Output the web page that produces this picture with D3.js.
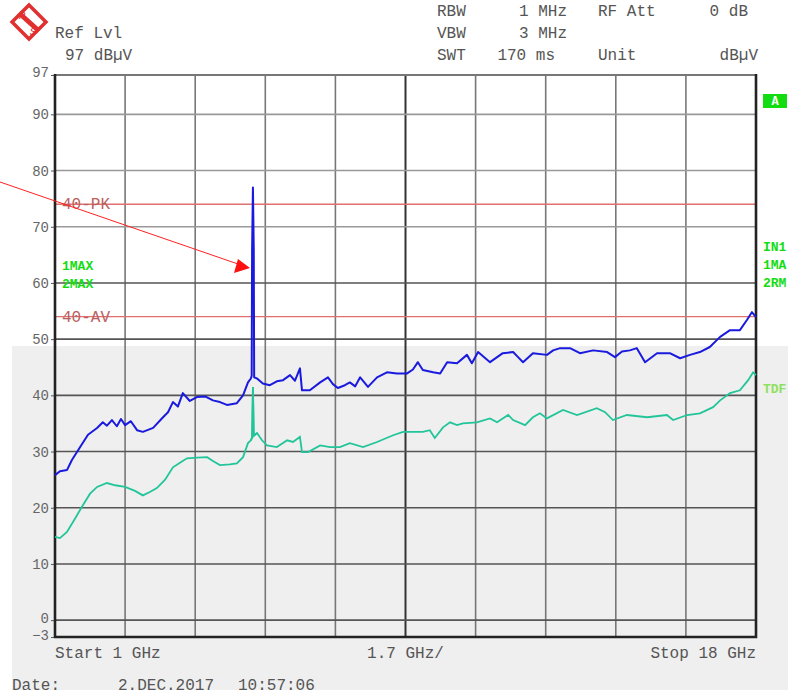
<!DOCTYPE html>
<html>
<script src="https://d3js.org/d3.v7.min.js"></script>
<style>
  body { margin:0; background:#fff; }
  text { font-family:"Liberation Mono", monospace; }
</style>
<body onload='init()'>
<svg width=788 height=695></svg>
<script>
    // frequency in GHz, level in dBuV
    const maxFreq = [1.00,1.12,1.29,1.41,1.61,1.80,2.02,2.16,2.26,2.38,2.50,2.60,2.70,2.84,2.99,3.13,3.38,3.62,3.74,3.86,3.98,4.10,4.27,4.44,4.64,4.83,5.00,5.17,5.41,5.56,5.68,5.75,5.77,5.78,5.80,5.82,5.83,
        5.90,6.04,6.21,6.38,6.53,6.70,6.82,6.94,6.99,7.18,7.43,7.62,7.74,7.86,8.03,8.15,8.28,8.40,8.59,8.81,9.05,9.29,9.54,9.68,9.80,9.92,10.17,10.34,10.51,10.75,10.99,11.11,11.26,11.55,11.86,
        12.11,12.23,12.35,12.59,12.93,13.08,13.25,13.49,13.73,14.05,14.39,14.58,14.75,14.94,15.11,15.31,15.60,15.91,16.16,16.40,16.64,16.88,17.13,17.37,17.61,17.78,17.90,18.00];
    const maxLevel = [25.8,26.5,26.7,28.5,30.8,33.0,34.2,35.2,34.6,35.6,34.5,35.8,34.7,35.4,33.8,33.5,34.2,36.1,37.0,38.8,38.0,40.4,39.0,39.7,39.8,39.1,38.8,38.3,38.6,40.0,42.3,43.0,43.5,66.0,77.0,66.0,43.2,
        43.0,42.1,41.8,42.5,42.7,43.6,42.6,44.8,40.9,40.9,42.3,43.2,42.0,41.3,41.8,42.3,41.6,43.2,41.5,43.2,44.1,43.9,43.9,44.6,45.9,44.5,44.1,43.9,45.9,45.7,47.2,45.7,47.7,45.9,47.5,
        47.7,46.8,45.9,47.5,47.2,48.0,48.4,48.4,47.5,48.0,47.7,46.8,47.8,48.0,48.4,45.9,47.5,47.5,46.6,47.2,47.7,48.6,50.4,51.6,51.6,53.4,54.8,53.9];

    const rmsFreq = [1.00,1.12,1.29,1.48,1.68,1.85,2.02,2.26,2.46,2.70,2.94,3.13,3.30,3.47,3.67,3.86,4.03,4.20,4.44,4.69,4.83,5.00,5.24,5.41,5.56,5.68,5.75,5.78,5.80,5.82,
        5.90,6.02,6.14,6.38,6.63,6.77,6.94,6.99,7.14,7.43,7.67,7.91,8.15,8.47,8.81,9.20,9.44,9.92,10.09,10.21,10.41,10.58,10.75,10.89,11.23,11.55,11.72,11.99,12.11,12.40,12.59,12.76,12.93,
        13.32,13.66,14.14,14.34,14.53,14.87,15.36,15.84,15.99,16.33,16.64,16.96,17.13,17.37,17.61,17.81,17.93,18.00];
    const rmsLevel = [14.8,14.6,15.7,18.0,20.5,22.5,23.7,24.4,24.0,23.7,23.0,22.2,22.8,23.5,25.0,27.2,28.0,28.8,28.9,29.0,28.3,27.6,27.7,27.9,29.0,31.5,32.0,32.5,41.5,32.8,
        33.3,32.0,31.1,30.8,32.0,31.7,32.6,29.9,29.9,31.1,30.8,30.8,31.5,30.8,31.7,32.9,33.5,33.5,33.8,32.4,34.3,35.2,34.7,35.0,35.2,35.9,35.2,36.5,35.6,34.7,36.1,36.8,35.9,
        37.4,36.5,37.7,37.0,35.6,36.5,36.1,36.5,35.6,36.5,36.8,37.9,39.1,40.4,40.9,42.7,44.1,43.6];

    const limitNames = ["40-PK", "40-AV"];
    const limitLevels = [74, 54];
    const yTicks = [97, 90, 80, 70, 60, 50, 40, 30, 20, 10, 0, -3];
    const xStart = 1, xStop = 18, xDiv = 1.7;

    function init(){
        const svg = d3.select("svg");
        const x = d3.scaleLinear().domain([xStart, xStop]).range([55, 756]);
        const y = d3.scaleLinear().domain([-3, 97]).range([637, 75]);

        // grey scanned background lower half
        svg.append("rect").attr("x", 12).attr("y", 346).attr("width", 776).attr("height", 344)
            .attr("fill", "#efefef");
        svg.append("rect").attr("x", 55).attr("y", 75).attr("width", 701).attr("height", 271)
            .attr("fill", "#fff");

        const grid = svg.append("g");
        grid.selectAll(".vg").data(d3.range(1, 10)).enter().append("line")
            .attr("x1", d => x(xStart + d * xDiv)).attr("x2", d => x(xStart + d * xDiv))
            .attr("y1", y(97)).attr("y2", y(-3))
            .attr("stroke", d => d == 5 ? "#333" : "#777")
            .attr("stroke-width", d => d == 5 ? 2 : 1.6);
        grid.selectAll(".hg").data(d3.range(0, 91, 10)).enter().append("line")
            .attr("x1", x(xStart)).attr("x2", x(xStop))
            .attr("y1", d => y(d)).attr("y2", d => y(d))
            .attr("stroke", d => d >= 70 ? "#999" : "#555")
            .attr("stroke-width", 1.6);

        // limit lines
        svg.selectAll(".lim").data(limitLevels).enter().append("line")
            .attr("x1", x(xStart)).attr("x2", x(xStop))
            .attr("y1", d => y(d)).attr("y2", d => y(d))
            .attr("stroke", "#e07070").attr("stroke-width", 1.3);
        svg.selectAll(".limt").data(limitLevels).enter().append("text")
            .attr("x", 62).attr("y", d => y(d) + 5)
            .attr("font-size", 16).attr("fill", "#b86060")
            .text((d, i) => limitNames[i]);

        // frame
        svg.append("line").attr("x1", 55).attr("x2", 756).attr("y1", 75).attr("y2", 75)
            .attr("stroke", "#777").attr("stroke-width", 2);
        svg.append("path").attr("d", "M55,74V637H756V74").attr("fill", "none")
            .attr("stroke", "#222").attr("stroke-width", 2.6);

        // y axis
        const yAxis = d3.axisLeft(y).tickValues(yTicks).tickSize(3).tickPadding(2);
        const ya = svg.append("g").attr("transform", "translate(54,0)").call(yAxis);
        ya.select(".domain").remove();
        ya.selectAll("line").attr("stroke", "#555");
        ya.selectAll("text").attr("font-family", "Liberation Sans").attr("font-size", 14)
            .attr("fill", "#666")
            .attr("dy", d => d == 97 ? "0.1em" : d == -3 ? "0.15em" : d == 0 ? "0.2em" : "0.32em");

        // traces
        const line = d3.line().x(d => x(d[0])).y(d => y(d[1]));
        svg.append("path").datum(rmsFreq.map((f, i) => [f, rmsLevel[i]]))
            .attr("d", line).attr("fill", "none").attr("stroke", "#22c59a").attr("stroke-width", 1.8);
        svg.append("path").datum(maxFreq.map((f, i) => [f, maxLevel[i]]))
            .attr("d", line).attr("fill", "none").attr("stroke", "#1a1ade").attr("stroke-width", 2)
            .attr("stroke-linejoin", "round");
        svg.append("path").datum(rmsFreq.slice(26, 31).map((f, i) => [f, rmsLevel[i + 26]]))
            .attr("d", line).attr("fill", "none").attr("stroke", "#22c59a").attr("stroke-width", 1.8);

        // trace labels
        const green = "#11dd11";
        svg.append("text").attr("x", 62).attr("y", 270).attr("font-size", 13).attr("font-weight", "bold")
            .attr("fill", green).text("1MAX");
        svg.append("text").attr("x", 62).attr("y", 288).attr("font-size", 13).attr("font-weight", "bold")
            .attr("fill", green).text("2MAX");
        svg.append("rect").attr("x", 763).attr("y", 94).attr("width", 24).attr("height", 14).attr("fill", "#11dd11");
        svg.append("text").attr("x", 775).attr("y", 105).attr("text-anchor", "middle").attr("font-size", 12)
            .attr("font-weight", "bold").attr("fill", "#fff").text("A");
        [["IN1", 251], ["1MA", 269], ["2RM", 287]].forEach(t =>
            svg.append("text").attr("x", 763).attr("y", t[1]).attr("font-size", 13).attr("font-weight", "bold")
                .attr("fill", green).text(t[0]));
        svg.append("text").attr("x", 763).attr("y", 393).attr("font-size", 13).attr("font-weight", "bold")
            .attr("fill", "#8ee060").text("TDF");

        // header
        const grey = "#555";
        const hdr = (tx, px, py, anchor) => svg.append("text").attr("x", px).attr("y", py)
            .attr("font-size", 16).attr("fill", grey).attr("text-anchor", anchor || "start").text(tx);
        hdr("Ref Lvl", 55, 38);
        hdr("97 dBµV", 65, 60);
        hdr("RBW", 437, 16); hdr("1 MHz", 567, 16, "end"); hdr("RF Att", 598, 16); hdr("0 dB", 748, 16, "end");
        hdr("VBW", 437, 38); hdr("3 MHz", 567, 38, "end");
        hdr("SWT", 437, 60); hdr("170 ms", 555, 60, "end"); hdr("Unit", 598, 60); hdr("dBµV", 758, 60, "end");
        hdr("Start " + xStart + " GHz", 55, 658);
        hdr(xDiv + " GHz/", x((xStart + xStop) / 2), 658, "middle");
        hdr("Stop " + xStop + " GHz", 756, 658, "end");
        hdr("Date:", 12, 690);
        hdr("2.DEC.2017", 118, 690);
        hdr("10:57:06", 238, 690);

        // R&S logo
        const logo = svg.append("g").attr("transform", "translate(29,22)");
        logo.append("rect").attr("x", -12).attr("y", -12).attr("width", 24).attr("height", 24)
            .attr("transform", "rotate(45)").attr("fill", "#fff").attr("stroke", "#e03030").attr("stroke-width", 3.5);
        logo.append("line").attr("x1", -10).attr("y1", -9).attr("x2", 10).attr("y2", 9)
            .attr("stroke", "#e03030").attr("stroke-width", 5);
        logo.append("text").attr("x", -7).attr("y", -3).attr("font-family", "Liberation Serif").attr("font-size", 11)
            .attr("font-style", "italic").attr("fill", "#e03030").attr("text-anchor", "middle").text("R");
        logo.append("text").attr("x", 4).attr("y", 13).attr("font-family", "Liberation Serif").attr("font-size", 11)
            .attr("font-style", "italic").attr("fill", "#e03030").attr("text-anchor", "middle").text("S");

        // annotation arrow
        svg.append("line").attr("x1", 0).attr("y1", 182).attr("x2", 238).attr("y2", 264)
            .attr("stroke", "#ff2020").attr("stroke-width", 1);
        svg.append("path").attr("d", "M250,268L234,273L238,259Z").attr("fill", "#ff1010");
    }
</script>
</body>
</html>
